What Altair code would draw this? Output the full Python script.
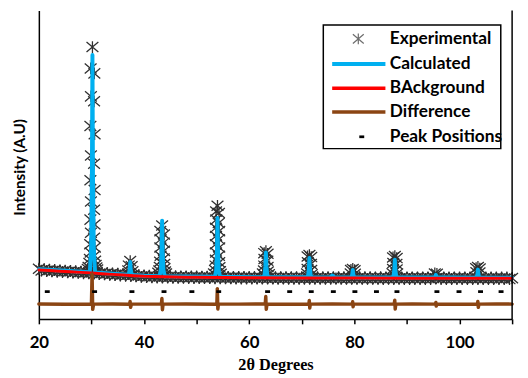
import altair as alt
import pandas as pd

# ---------------- data (2θ in degrees, intensity in arbitrary units) ----------------
# Experimental pattern: baseline readings every 0.5 degree from 20 to 110
exp_base_start = 20.0
exp_base_step = 0.5
exp_base_y = [
    905, 850, 890, 838, 875, 826, 868, 815, 852, 806,
    850, 798, 838, 786, 830, 778, 818, 770, 810, 765,
    810, 755, 800, 745, 790, 735, 775, 722, 765, 710,
    755, 700, 745, 690, 740, 688, 725, 672, 710, 660,
    700, 650, 698, 642, 690, 640, 686, 638, 684, 634,
    680, 632, 680, 628, 676, 626, 674, 624, 672, 622,
    670, 620, 668, 618, 666, 618, 664, 616, 665, 614,
    662, 612, 660, 612, 658, 610, 660, 610, 656, 608,
    655, 606, 654, 606, 652, 606, 654, 604, 652, 604,
    652, 602, 650, 604, 651, 600, 652, 602, 650, 602,
    650, 600, 651, 601, 649, 599, 650, 600, 648, 600,
    649, 598, 648, 610, 647, 598, 649, 598, 647, 597,
    648, 597, 647, 598, 646, 596, 647, 597, 645, 596,
    646, 595, 645, 596, 644, 595, 646, 596, 644, 594,
    645, 594, 644, 595, 643, 594, 645, 595, 643, 593,
    644, 615, 643, 594, 642, 593, 644, 594, 642, 592,
    643, 593, 642, 593, 641, 592, 643, 593, 641, 592,
    642, 592, 641, 592, 640, 591, 642, 592, 640, 591,
    620,
]
exp_base_x = [exp_base_start + exp_base_step * i for i in range(len(exp_base_y))]

# Experimental points on the diffraction peaks
exp_peak_x = [
    30.19, 29.85, 30.55, 29.9, 30.5, 29.8, 30.6, 29.9, 30.5, 29.8, 30.6, 29.9, 30.5,
    29.8, 30.6, 29.9, 30.5, 29.75, 30.65, 29.85, 30.55, 29.7, 30.7, 29.6, 30.8,
    29.45, 30.95, 29.3, 31.1,
    37.37, 37.1, 37.65, 37.0, 37.8,
    43.44, 43.1, 43.8, 43.15, 43.75, 43.1, 43.8, 43.15, 43.75, 43.05, 43.85,
    43.0, 43.9, 42.9, 44.0, 42.7, 44.2,
    53.97, 53.7, 54.25, 53.75, 54.2, 53.65, 54.3, 53.7, 54.25, 53.65, 54.3,
    53.7, 54.25, 53.65, 54.3, 53.6, 54.35, 53.5, 54.45, 53.3, 54.6,
    63.18, 62.85, 63.5, 62.9, 63.45, 62.85, 63.5, 62.8, 63.55, 62.6, 63.75,
    71.45, 71.1, 71.8, 71.15, 71.75, 71.1, 71.8, 71.0, 71.9,
    79.7, 79.35, 80.05, 79.3, 80.1,
    87.7, 87.35, 88.05, 87.4, 88.0, 87.35, 88.05, 87.25, 88.15,
    95.3, 95.7,
    103.5, 103.15, 103.85, 103.2, 103.8,
]
exp_peak_y = [
    7650, 7000, 6850, 6150, 6000, 5250, 5000, 4350, 4100, 3600, 3300, 2950, 2700,
    2400, 2250, 2000, 1850, 1650, 1550, 1400, 1300, 1200, 1150, 1080, 1020,
    960, 940, 900, 880,
    1140, 1000, 980, 850, 830,
    2220, 2050, 1950, 1800, 1700, 1550, 1450, 1300, 1220, 1120, 1050,
    960, 920, 850, 820, 780, 760,
    2820, 2650, 2600, 2400, 2300, 2150, 2050, 1900, 1800, 1650, 1550,
    1400, 1300, 1180, 1100, 1000, 950, 870, 830, 760, 750,
    1440, 1380, 1360, 1200, 1150, 1000, 960, 850, 820, 760, 740,
    1320, 1280, 1260, 1100, 1050, 900, 870, 760, 740,
    900, 870, 860, 760, 750,
    1290, 1250, 1230, 1080, 1050, 900, 880, 770, 760,
    760, 750,
    960, 920, 910, 800, 790,
]

# Calculated profile
calc_x = [
    20.0, 25.0,
    29.69, 29.94, 30.09, 30.19, 30.29, 30.44, 30.69,
    34.0,
    36.87, 37.12, 37.27, 37.37, 37.47, 37.62, 37.87,
    40.0,
    42.94, 43.19, 43.34, 43.44, 43.54, 43.69, 43.94,
    48.0,
    53.47, 53.72, 53.87, 53.97, 54.07, 54.22, 54.47,
    58.0,
    62.68, 62.93, 63.08, 63.18, 63.28, 63.43, 63.68,
    67.0,
    70.95, 71.2, 71.35, 71.45, 71.55, 71.7, 71.95,
    75.4, 75.8, 76.2,
    79.2, 79.45, 79.6, 79.7, 79.8, 79.95, 80.2,
    84.0,
    87.2, 87.45, 87.6, 87.7, 87.8, 87.95, 88.2,
    91.0,
    95.1, 95.4, 95.5, 95.6, 95.9,
    99.0,
    103.0, 103.25, 103.4, 103.5, 103.6, 103.75, 104.0,
    107.0, 110.0,
]
calc_y = [
    890, 845,
    797, 1574, 3762, 7410, 3762, 1574, 795,
    755,
    722, 754, 887, 1110, 887, 754, 718,
    695,
    682, 867, 1431, 2370, 1431, 867, 680,
    670,
    660, 857, 1455, 2450, 1455, 857, 660,
    654,
    649, 722, 976, 1400, 976, 722, 649,
    647,
    645, 698, 897, 1230, 897, 698, 645,
    644, 700, 644,
    642, 652, 734, 870, 734, 652, 642,
    641,
    640, 687, 872, 1180, 872, 687, 640,
    639,
    638, 660, 720, 660, 638,
    637,
    636, 648, 735, 880, 735, 648, 636,
    635, 635,
]

# Background
bg_x = [20, 22, 24, 26, 28, 30, 32, 34, 36, 38, 40, 42, 44, 46, 48, 50, 55, 60, 70, 80, 90, 100, 110]
bg_y = [870, 850, 830, 815, 795, 780, 755, 735, 715, 695, 675, 668, 660, 655, 650, 645, 638, 630, 625, 622, 619, 617, 615]

# Difference curve
diff_x = [
    20, 25, 30.0, 30.12, 30.24, 30.4, 34, 37.25, 37.35, 37.45, 37.6, 40,
    43.3, 43.4, 43.5, 43.62, 48, 53.85, 53.94, 54.04, 54.15, 58,
    63.05, 63.15, 63.25, 63.38, 67, 71.35, 71.43, 71.52, 71.62, 75.8,
    79.6, 79.68, 79.76, 79.86, 84, 87.58, 87.68, 87.77, 87.88, 91,
    95.4, 95.5, 95.57, 95.67, 99, 103.4, 103.48, 103.57, 103.68, 107, 110,
]
diff_y = [
    -165, -172, -168, 750, -330, -170, -166, -172, -90, -270, -168, -170,
    -168, 0, -340, -170, -166, -172, 300, -320, -168, -170,
    -168, 60, -330, -170, -172, -168, -60, -290, -170, -168,
    -170, -100, -250, -168, -171, -168, -50, -320, -170, -167,
    -170, -120, -230, -168, -172, -169, -90, -270, -170, -167, -170,
]

# Peak positions (Bragg reflections)
pos_x = [21.6, 30.6, 37.7, 43.8, 49.1, 54.2, 63.5, 67.7, 71.8, 76.0, 80.1, 84.2, 88.1, 95.7, 99.9, 104.0, 107.9]
pos_level = 210

legend_labels = ["Experimental", "Calculated", "BAckground", "Difference", "Peak Positions"]
series_colors = ["#303030", "#00B0F0", "#FF0000", "#8B4513", "#000000"]

x_ticks = [20, 30, 40, 50, 60, 70, 80, 90, 100, 110]

# ---------------- chart ----------------
W, H = 480, 312.7
ASTERISK = "M-1,-0.85L1,0.85M1,-0.85L-1,0.85M0,-1L0,1"
DASH = "M-1,-0.55L1,-0.55L1,0.55L-1,0.55Z"

exp_df = pd.DataFrame({"x": exp_base_x + exp_peak_x, "y": exp_base_y + exp_peak_y})
calc_df = pd.DataFrame({"x": calc_x, "y": calc_y})
bg_df = pd.DataFrame({"x": bg_x, "y": bg_y})
diff_df = pd.DataFrame({"x": diff_x, "y": diff_y})
pos_df = pd.DataFrame({"x": pos_x, "y": [pos_level] * len(pos_x)})

x_enc = alt.X(
    "x:Q",
    scale=alt.Scale(domain=[20, 110], nice=False, zero=False),
    axis=alt.Axis(
        values=x_ticks,
        labelExpr="datum.value % 20 == 0 ? datum.label : ''",
        labelFlush=False,
        labelOverlap=False,
        grid=False,
        ticks=True,
        tickSize=5,
        tickWidth=1.5,
        tickColor="black",
        domainColor="black",
        domainWidth=1.5,
        labelFont="Lato",
        labelFontWeight="bold",
        labelFontSize=17,
        labelColor="black",
        labelPadding=11,
        title="2θ Degrees",
        titleFont="Liberation Serif",
        titleFontWeight="bold",
        titleFontSize=16.5,
        titleColor="black",
        titleX=W / 2,
        titleY=46.5,
        titleAlign="center",
        titleBaseline="middle",
    ),
)
y_enc = alt.Y(
    "y:Q",
    scale=alt.Scale(domain=[-620, 8760], nice=False, zero=False),
    axis=alt.Axis(
        grid=False,
        ticks=False,
        labels=False,
        domainColor="black",
        domainWidth=1.5,
        title="Intensity (A.U)",
        titleFont="Lato",
        titleFontWeight="bold",
        titleFontSize=15.5,
        titleColor="black",
        titleX=-19.5,
        titleY=158.5,
        titleAngle=270,
        titleAlign="center",
        titleBaseline="middle",
    ),
)

exp_layer = alt.Chart(exp_df).mark_point(
    shape=ASTERISK, size=144, filled=False, stroke=series_colors[0], strokeWidth=1.3, opacity=1
).encode(x=x_enc, y=y_enc)

calc_layer = alt.Chart(calc_df).mark_line(
    color=series_colors[1], strokeWidth=4, strokeJoin="round", strokeCap="round"
).encode(x=x_enc, y=y_enc)

bg_layer = alt.Chart(bg_df).mark_line(
    color=series_colors[2], strokeWidth=3, strokeJoin="round", strokeCap="round"
).encode(x=x_enc, y=y_enc)

diff_layer = alt.Chart(diff_df).mark_line(
    color=series_colors[3], strokeWidth=3.5, strokeJoin="round", strokeCap="round"
).encode(x=x_enc, y=y_enc)

pos_layer = alt.Chart(pos_df).mark_point(
    shape=DASH, size=25, filled=True, fill=series_colors[4], stroke=None, opacity=1
).encode(x=x_enc, y=y_enc)

one = pd.DataFrame({"k": [0]})
right_frame = alt.Chart(one).mark_rule(color="black", strokeWidth=1.5).encode(
    x=alt.value(W), y=alt.value(0), y2=alt.value(H)
)

# ---- legend (drawn inside the plot, top right) ----
LX0, LX1, LY0, LY1 = 288.5, 468.5, 14.5, 140
legend_box = alt.Chart(one).mark_rect(fill="white", stroke="black", strokeWidth=1.5).encode(
    x=alt.value(LX0), x2=alt.value(LX1), y=alt.value(LY0), y2=alt.value(LY1)
)
row_y = [28.7, 54.2, 78.7, 102.8, 128]
legend_layers = [legend_box]
legend_layers.append(
    alt.Chart(one).mark_point(shape=ASTERISK, size=121, filled=False, stroke=series_colors[0], strokeWidth=1.2)
    .encode(x=alt.value(324), y=alt.value(row_y[0]))
)
for i in (1, 2, 3):
    legend_layers.append(
        alt.Chart(one).mark_rule(color=series_colors[i], strokeWidth=4 if i == 1 else 3.5)
        .encode(x=alt.value(297.5), x2=alt.value(351.5), y=alt.value(row_y[i]))
    )
legend_layers.append(
    alt.Chart(one).mark_point(shape=DASH, size=25, filled=True, fill="black", stroke=None, opacity=1)
    .encode(x=alt.value(327.5), y=alt.value(row_y[4]))
)
for i, lab in enumerate(legend_labels):
    legend_layers.append(
        alt.Chart(pd.DataFrame({"label": [lab]})).mark_text(
            align="left", baseline="middle", font="Lato", fontWeight="bold", fontSize=17.5, color="black"
        ).encode(x=alt.value(356), y=alt.value(row_y[i]), text="label:N")
    )

chart = alt.layer(
    exp_layer, calc_layer, bg_layer, diff_layer, pos_layer, right_frame, *legend_layers
).properties(
    width=W,
    height=H,
    autosize=alt.AutoSizeParams(type="none"),
    padding={"left": 31.3, "top": 0, "right": 8, "bottom": 57},
    background="white",
).configure_view(stroke=None)

chart.save("out.html", embed_options={"renderer": "svg", "actions": False})
